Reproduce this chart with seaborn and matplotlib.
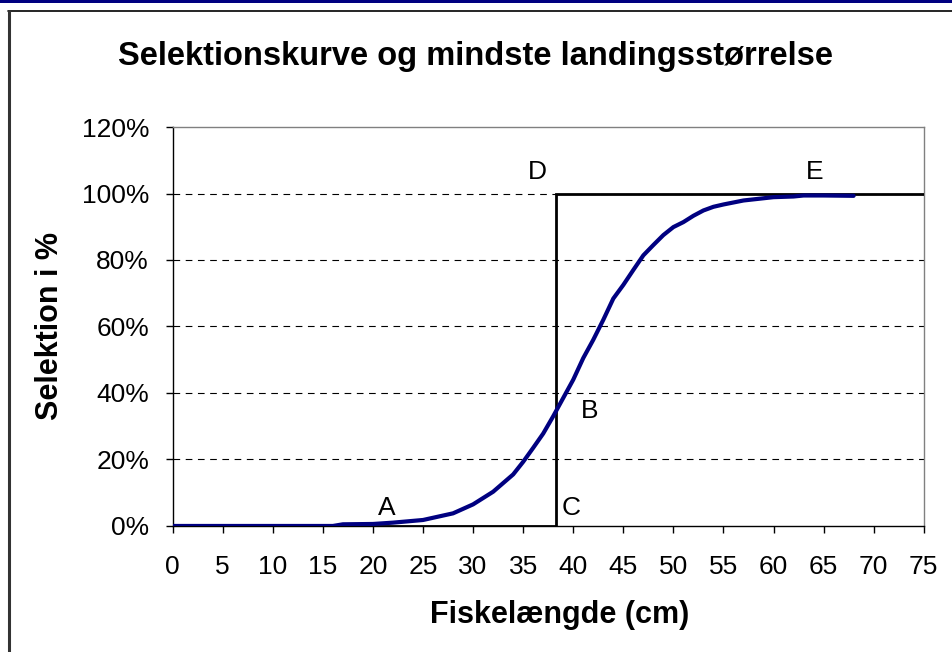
import matplotlib
matplotlib.use("Agg")
import matplotlib.pyplot as plt
import seaborn as sns
import pandas as pd
from matplotlib.patches import Rectangle
from matplotlib.lines import Line2D
from matplotlib.ticker import FuncFormatter

# ---- data ----
length_cm = [0, 5, 10, 15, 16, 17, 20, 22, 25, 28, 30, 32, 34, 35, 36, 37, 38, 39, 40,
             41, 42, 43, 44, 45, 46, 47, 48, 49, 50, 51, 52, 53, 54, 55, 57, 60, 62, 63, 65, 68]
selection_pct = [0, 0, 0, 0, 0, 0.5, 0.6, 1.0, 1.8, 3.8, 6.5, 10.3, 15.5, 19.3, 23.5, 27.8, 33,
                 38.5, 44, 50.5, 56, 62, 68.4, 72.5, 77, 81.4, 84.5, 87.5, 89.9, 91.4, 93.3,
                 94.9, 96, 96.7, 97.9, 98.9, 99.1, 99.4, 99.4, 99.3]
mls_x = [20, 38.3, 38.3, 75]
mls_y = [0, 0, 100, 100]
point_labels = ["A", "B", "C", "D", "E"]
point_x = [21.4, 41.6, 39.8, 36.4, 64.1]
point_y = [5.5, 34.5, 5.5, 106.5, 106.5]
x_ticks = list(range(0, 80, 5))
y_ticks = [0, 20, 40, 60, 80, 100, 120]

sns.set_style("white")
plt.rcParams['font.family'] = ['Liberation Sans', 'DejaVu Sans']
plt.rcParams['text.color'] = 'black'
plt.rcParams['axes.labelcolor'] = 'black'

fig = plt.figure(figsize=(9.52, 6.52), dpi=100)
ax = fig.add_axes([0.1814, 0.1933, 0.9703 - 0.1814, 0.8052 - 0.1933])

# frame decorations
fig.patches.append(Rectangle((0, 1 - 3 / 652), 1, 3 / 652, transform=fig.transFigure,
                             facecolor="#000080", edgecolor="none", zorder=0))
fig.lines.append(Line2D([8 / 952, 1], [1 - 10.5 / 652, 1 - 10.5 / 652], transform=fig.transFigure,
                        color="black", lw=1.2))
fig.lines.append(Line2D([8.5 / 952, 8.5 / 952], [0, 1 - 10.5 / 652], transform=fig.transFigure,
                        color="#333333", lw=2.2))

df = pd.DataFrame({"x": length_cm, "y": selection_pct})
sns.lineplot(data=df, x="x", y="y", ax=ax, color="#000080", lw=3.0, zorder=4)
ax.plot(mls_x, mls_y, color="black", lw=2.0, zorder=3, solid_joinstyle="miter")

for lab, px, py in zip(point_labels, point_x, point_y):
    ax.text(px, py, lab, fontsize=19, ha="center", va="center", color="black")

ax.set_xlim(0, 75)
ax.set_ylim(0, 120)
ax.set_xticks(x_ticks)
ax.set_yticks(y_ticks)
ax.yaxis.set_major_formatter(FuncFormatter(lambda v, p: f"{int(v)}%"))
ax.tick_params(axis="both", direction="out", length=5, width=1, colors="black",
               labelsize=19, bottom=True, left=True)
ax.tick_params(axis="x", pad=16)
ax.tick_params(axis="y", pad=12)

for yv in y_ticks[1:-1]:
    ax.axhline(yv, color="black", lw=0.8, ls=(0, (6, 5)), zorder=1)

for s in ["left", "bottom"]:
    ax.spines[s].set_color("black")
    ax.spines[s].set_linewidth(1.0)
for s in ["top", "right"]:
    ax.spines[s].set_color("#808080")
    ax.spines[s].set_linewidth(1.0)

ax.set_xlabel("Fiskelængde (cm)", fontsize=22, fontweight="bold", labelpad=15)
ax.xaxis.label.set_x(0.515)
ax.set_ylabel("Selektion i %", fontsize=22, fontweight="bold", labelpad=12)
fig.text(0.5, 1 - 57 / 652, "Selektionskurve og mindste landingsstørrelse", fontsize=23.5,
         fontweight="bold", ha="center", va="center")

fig.savefig("out.png", dpi=100)
